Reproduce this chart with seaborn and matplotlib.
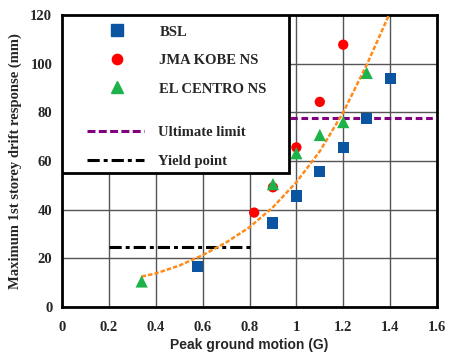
import numpy as np
import pandas as pd
import matplotlib
matplotlib.use('Agg')
import matplotlib.pyplot as plt
import seaborn as sns
from matplotlib.lines import Line2D
from matplotlib.patches import Rectangle

# 数据
bsl_x = [0.58, 0.9, 1.0, 1.1, 1.2, 1.3, 1.4]
bsl_y = [16.8, 34.5, 45.6, 55.8, 65.6, 77.3, 93.9]

kobe_x = [0.82, 0.9, 1.0, 1.1, 1.2]
kobe_y = [38.8, 49.2, 65.6, 84.3, 107.8]

centro_x = [0.34, 0.9, 1.0, 1.1, 1.2, 1.3]
centro_y = [10.5, 50.5, 63.2, 70.7, 76.0, 96.2]

trend_x = [0.34, 0.4, 0.5, 0.6, 0.7, 0.8, 0.9, 1.0, 1.1, 1.2, 1.3, 1.395]
trend_y = [12.5, 13.8, 17.0, 21.3, 26.5, 32.8, 41.0, 51.3, 64.0, 80.0, 99.5, 120.0]

ultimate_x = [0.0, 1.6]
ultimate_y = [77.7, 77.7]
yield_x = [0.2, 0.8]
yield_y = [24.7, 24.7]

x_ticks = [0, 0.2, 0.4, 0.6, 0.8, 1, 1.2, 1.4, 1.6]
x_ticklabels = ['0', '0.2', '0.4', '0.6', '0.8', '1', '1.2', '1.4', '1.6']
y_ticks = [0, 20, 40, 60, 80, 100, 120]

sns.set_style('white')
plt.rcParams['font.family'] = ['Liberation Serif', 'DejaVu Serif']
plt.rcParams['font.weight'] = 'bold'

fig = plt.figure(figsize=(4.49, 3.52), dpi=100)
ax = fig.add_axes([62 / 449, 1 - 307 / 352, 375 / 449, 292 / 352])

ax.set_xlim(0, 1.6)
ax.set_ylim(0, 120)
ax.set_xticks(x_ticks)
ax.set_xticklabels(x_ticklabels)
ax.set_yticks(y_ticks)
ax.grid(True, color='#555555', linewidth=1.0)
ax.set_axisbelow(True)
ax.tick_params(axis='both', length=0, labelsize=10.5)
ax.tick_params(axis='x', pad=10)
ax.tick_params(axis='y', pad=7)
for lab in ax.get_xticklabels() + ax.get_yticklabels():
    lab.set_fontweight('bold')
for sp in ax.spines.values():
    sp.set_linewidth(2.0)
    sp.set_color('black')

# 参考线
sns.lineplot(x=ultimate_x, y=ultimate_y, ax=ax, color='#800080', linewidth=2.2, zorder=3)
ax.lines[-1].set_dashes([2.2, 1.2])
sns.lineplot(x=yield_x, y=yield_y, ax=ax, color='black', linewidth=2.2, zorder=3)
ax.lines[-1].set_dashes([4, 1.3, 1.3, 1.3])

# 趋势线
sns.lineplot(x=trend_x, y=trend_y, ax=ax, color='#FF8C1A', linewidth=1.8, zorder=4)
ax.lines[-1].set_dashes([1.8, 0.8])

# 散点
sns.scatterplot(x=bsl_x, y=bsl_y, ax=ax, marker='s', s=64, color='#0B54A2',
                edgecolor='none', zorder=5)
sns.scatterplot(x=kobe_x, y=kobe_y, ax=ax, marker='o', s=55, color='#FF0000',
                edgecolor='none', zorder=5)
sns.scatterplot(x=centro_x, y=centro_y, ax=ax, marker='^', s=78, color='#1DB34A',
                edgecolor='none', zorder=5)

ax.set_xlabel('Peak ground motion (G)', fontsize=10, fontweight='bold',
              family=['Liberation Sans', 'DejaVu Sans'], labelpad=3)
ax.set_ylabel('Maximum 1st storey drift response (mm)', fontsize=10.5,
              fontweight='bold', labelpad=6)

# 图例框
box = Rectangle((0, 1 - (173 - 15) / 292), (289 - 62) / 375, (173 - 15) / 292,
                transform=ax.transAxes, facecolor='white', edgecolor='black',
                linewidth=2.0, zorder=6)
ax.add_patch(box)

marker_handles = [
    Line2D([], [], marker='s', linestyle='none', color='#0B54A2', markersize=8),
    Line2D([], [], marker='o', linestyle='none', color='#FF0000', markersize=7.4),
    Line2D([], [], marker='^', linestyle='none', color='#1DB34A', markersize=8.8),
]
leg1 = ax.legend(marker_handles, ['BSL', 'JMA KOBE NS', 'EL CENTRO NS'],
                 loc='upper left', bbox_to_anchor=(40 / 375, 1 - 3 / 292),
                 frameon=False, fontsize=10.5, handlelength=1.0,
                 handletextpad=2.44, labelspacing=1.05, borderpad=0)
leg1.set_zorder(7)
ax.add_artist(leg1)

line_handles = [
    Line2D([], [], color='#800080', linewidth=2.2, dashes=[2.6, 1.1]),
    Line2D([], [], color='black', linewidth=2.2, dashes=[4, 1.3, 1.3, 1.3]),
]
leg2 = ax.legend(line_handles, ['Ultimate limit', 'Yield point'],
                 loc='upper left', bbox_to_anchor=(18 / 375, 1 - 104 / 292),
                 frameon=False, fontsize=10.5, handlelength=3.9,
                 handletextpad=0.96, labelspacing=1.05, borderpad=0)
leg2.set_zorder(7)

fig.savefig('out.png', dpi=100)
